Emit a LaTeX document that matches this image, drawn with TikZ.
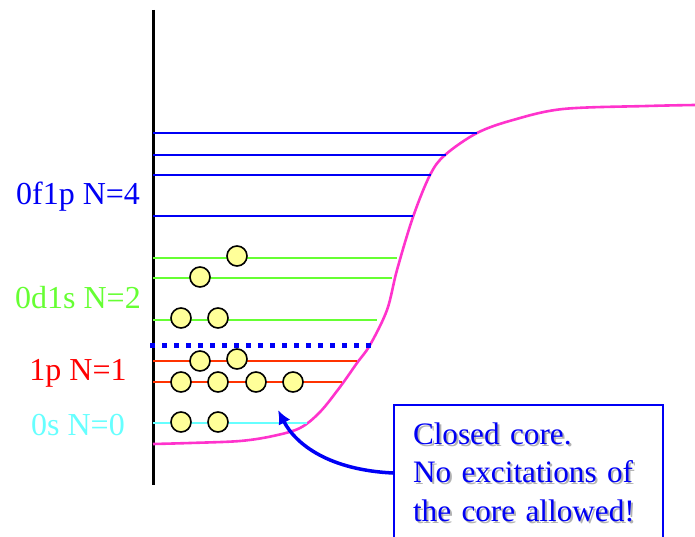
\documentclass[tikz,border=0pt]{standalone}
\usepackage{fontspec}
\setmainfont{Liberation Serif}
\usepackage{xcolor}
\usetikzlibrary{positioning, arrows.meta, calc}

\definecolor{shellblue}{RGB}{0,0,245}
\definecolor{shellgreen}{RGB}{102,255,51}
\definecolor{shellred}{RGB}{255,51,0}
\definecolor{shellcyan}{RGB}{102,255,255}
\definecolor{wellpink}{RGB}{255,51,204}
\definecolor{nucleon}{RGB}{255,255,153}

\begin{document}
\begin{tikzpicture}[
    x=1pt, y=-1pt,
    font=\fontsize{32}{38.5}\selectfont,
    >=Latex,
    level/.style={line width=2pt},
    shelllabel/.style={anchor=base, inner sep=0pt},
    particle/.style={
        circle,
        draw=black,
        line width=1.6pt,
        fill=nucleon,
        minimum size=20pt,
        inner sep=0pt
    },
    notebox/.style={
        rectangle,
        draw=shellblue,
        line width=2pt,
        align=left,
        text=shellblue,
        font=\fontsize{31.2}{38.5}\selectfont,
        inner xsep=19pt,
        inner ysep=0pt,
        text height=39pt,
        text depth=120pt,
        text width=231pt
    },
    arrow/.style={-{Latex[length=14pt, width=13pt]}, line width=3.5pt, draw=shellblue}
]
\clip (0,0) rectangle (695,537);
\useasboundingbox (0,0) rectangle (695,537);

% energy axis
\draw[line width=3pt] (153,10) -- (153,485);

% potential well
\draw[wellpink, line width=2.6pt] plot[smooth, tension=0.55] coordinates {
    (153,444) (190,443) (240,441) (273,436) (300,428) (320,412)
    (340,387) (357,363) (370,345) (387,310) (397,270) (413,217)
    (430,175) (445,155) (477,133) (513,120) (563,109) (647,106) (695,105)};

% single-particle levels
\draw[level, shellblue] (153,133) -- (477,133);
\draw[level, shellblue] (153,155) -- (446,155);
\draw[level, shellblue] (153,175) -- (431,175);
\draw[level, shellblue] (153,216) -- (413,216);
\draw[level, shellgreen] (153,258) -- (397,258);
\draw[level, shellgreen] (153,278) -- (392,278);
\draw[level, shellgreen] (153,320) -- (377,320);
\draw[level, shellred] (153,361) -- (357,361);
\draw[level, shellred] (153,382) -- (342,382);
\draw[level, shellcyan] (153,423) -- (307,423);

% core boundary
\draw[shellblue, line width=5pt, dash pattern=on 5pt off 7pt] (150,345) -- (372,345);

% shell labels
\node[shelllabel, text=shellblue] (lblfp) at (78,205) {0f1p N=4};
\node[shelllabel, text=shellgreen] (lblds) at (78,308) {0d1s N=2};
\node[shelllabel, text=red] (lblp) at (78,380) {1p N=1};
\node[shelllabel, text=shellcyan] (lbls) at (78,435) {0s N=0};

% nucleons
\foreach \px/\py [count=\i] in {237/256, 200/277, 181/318, 218/318,
    200/361, 237/359, 181/382, 218/382, 256/382, 293/382, 181/422, 218/422}
    \node[particle] (n\i) at (\px,\py) {};

% note
\node[notebox, text=black!30, anchor=north west, draw=none] (noteshadow) at (395,406)
    {Closed core.\\No excitations of\\the core allowed!};
\node[notebox, anchor=north west] (note) at (393,404)
    {Closed core.\\No excitations of\\the core allowed!};

\coordinate (core) at (278,410);
\coordinate (notetail) at (393,473);
\draw[arrow] (notetail) .. controls (330,470) and (296,445) .. (core);

\end{tikzpicture}
\end{document}
